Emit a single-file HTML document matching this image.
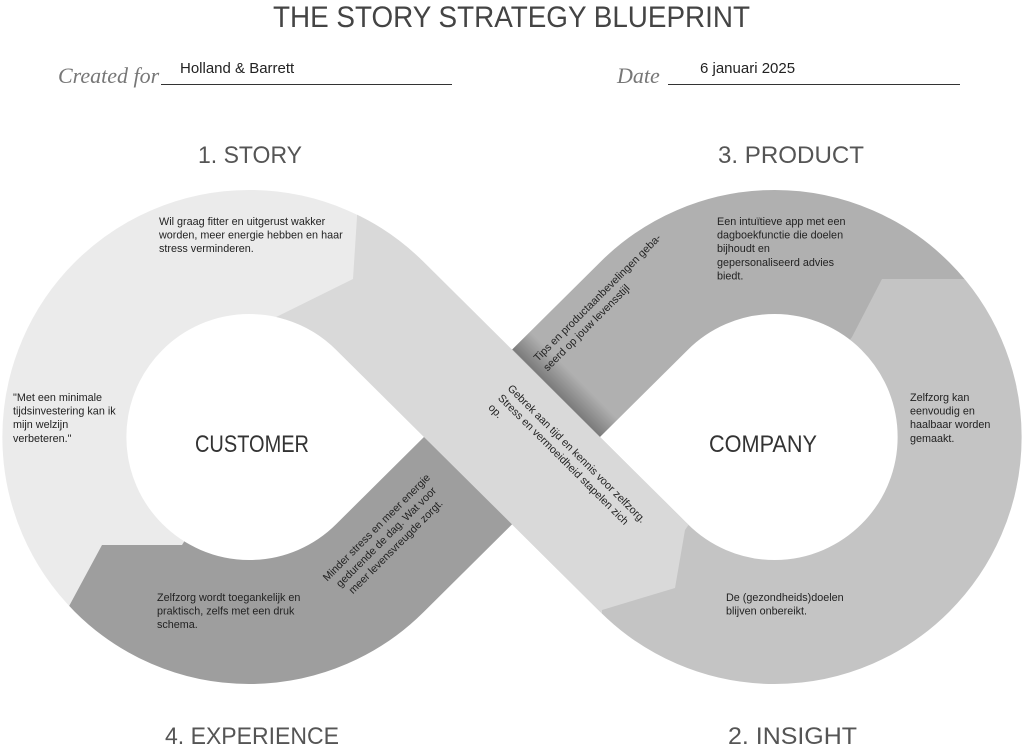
<!DOCTYPE html>
<html><head><meta charset="utf-8"><style>
html,body{margin:0;padding:0;background:#fff;}
svg{display:block;}
text{font-family:"Liberation Sans",sans-serif;fill:#222;}
.s{font-size:10.8px;}
</style></head><body>
<svg width="1024" height="745" viewBox="0 0 1024 745" xmlns="http://www.w3.org/2000/svg">
<defs>
<mask id="band" maskUnits="userSpaceOnUse" x="0" y="0" width="1024" height="745">
<rect width="1024" height="745" fill="#000"/>
<path d="M380,306 L644,568 A185,185 0 1 0 644,306 L380,568 A185,185 0 1 1 380,306 Z" fill="none" stroke="#fff" stroke-width="124"/>
</mask>
<mask id="light" maskUnits="userSpaceOnUse" x="0" y="0" width="1024" height="745">
<rect width="1024" height="745" fill="#000"/>
<path d="M217,255 A185,185 0 0 1 380,306 L644,568 A185,185 0 0 0 743,619" fill="none" stroke="#fff" stroke-width="124"/>
</mask>
<linearGradient id="sh" gradientUnits="userSpaceOnUse" x1="556" y1="393" x2="574" y2="375">
<stop offset="0" stop-color="#7a7a7a"/><stop offset="1" stop-color="#b0b0b0"/>
</linearGradient>
</defs>

<g mask="url(#band)">
<rect x="0" y="0" width="512" height="745" fill="#ebebeb"/>
<rect x="512" y="0" width="512" height="745" fill="#c4c4c4"/>
<polygon points="40,660 102,545 182,545 250,437 512,437 512,745 40,745" fill="#9e9e9e"/>
<polygon points="512,437 512,150 1024,150 1024,279 882,279 852,337 775,437" fill="#b0b0b0"/>
<polygon points="512,349 600,437 618,419 530,331" fill="url(#sh)"/>
</g>
<g mask="url(#light)">
<polygon points="357,100 357,217 353,279 260,325 400,700 602,700 602,610 675,588 685,530 720,480 720,100" fill="#d9d9d9"/>
</g>

<!-- header -->
<text x="273" y="27" font-size="30" textLength="477" lengthAdjust="spacingAndGlyphs" style="fill:#444">THE STORY STRATEGY BLUEPRINT</text>
<text x="58" y="83" font-size="22" style="font-family:'Liberation Serif',serif;font-style:italic;fill:#777">Created for</text>
<line x1="161" y1="84.5" x2="452" y2="84.5" stroke="#333" stroke-width="1"/>
<text x="180" y="73" font-size="15">Holland &amp; Barrett</text>
<text x="617" y="83" font-size="22" style="font-family:'Liberation Serif',serif;font-style:italic;fill:#777">Date</text>
<line x1="668" y1="84.5" x2="960" y2="84.5" stroke="#333" stroke-width="1"/>
<text x="700" y="73" font-size="15">6 januari 2025</text>

<text x="198" y="163" font-size="24" textLength="104" lengthAdjust="spacingAndGlyphs" style="fill:#555">1. STORY</text>
<text x="718" y="163" font-size="24" textLength="146" lengthAdjust="spacingAndGlyphs" style="fill:#555">3. PRODUCT</text>
<text x="165" y="744" font-size="24" textLength="174" lengthAdjust="spacingAndGlyphs" style="fill:#555">4. EXPERIENCE</text>
<text x="728" y="744" font-size="24" textLength="129" lengthAdjust="spacingAndGlyphs" style="fill:#555">2. INSIGHT</text>

<text x="195" y="452" font-size="24" textLength="114" lengthAdjust="spacingAndGlyphs" style="fill:#333">CUSTOMER</text>
<text x="709" y="452" font-size="24" textLength="108" lengthAdjust="spacingAndGlyphs" style="fill:#333">COMPANY</text>

<!-- body texts -->
<text class="s" x="159" y="225"><tspan x="159">Wil graag fitter en uitgerust wakker</tspan><tspan x="159" dy="13.6">worden, meer energie hebben en haar</tspan><tspan x="159" dy="13.6">stress verminderen.</tspan></text>
<text class="s" x="13" y="401"><tspan x="13">"Met een minimale</tspan><tspan x="13" dy="13.6">tijdsinvestering kan ik</tspan><tspan x="13" dy="13.6">mijn welzijn</tspan><tspan x="13" dy="13.6">verbeteren."</tspan></text>
<text class="s" x="157" y="601"><tspan x="157">Zelfzorg wordt toegankelijk en</tspan><tspan x="157" dy="13.6">praktisch, zelfs met een druk</tspan><tspan x="157" dy="13.6">schema.</tspan></text>
<text class="s" x="717" y="225"><tspan x="717">Een intuïtieve app met een</tspan><tspan x="717" dy="13.6">dagboekfunctie die doelen</tspan><tspan x="717" dy="13.6">bijhoudt en</tspan><tspan x="717" dy="13.6">gepersonaliseerd advies</tspan><tspan x="717" dy="13.6">biedt.</tspan></text>
<text class="s" x="910" y="401"><tspan x="910">Zelfzorg kan</tspan><tspan x="910" dy="13.6">eenvoudig en</tspan><tspan x="910" dy="13.6">haalbaar worden</tspan><tspan x="910" dy="13.6">gemaakt.</tspan></text>
<text class="s" x="726" y="601"><tspan x="726">De (gezondheids)doelen</tspan><tspan x="726" dy="13.6">blijven onbereikt.</tspan></text>

<g transform="translate(538,362) rotate(-45)"><text class="s"><tspan x="0" y="0">Tips en productaanbevelingen geba-</tspan><tspan x="0" dy="13.6">seerd op jouw levensstijl</tspan></text></g>
<g transform="translate(507,389) rotate(45)"><text class="s"><tspan x="0" y="0">Gebrek aan tijd en kennis voor zelfzorg.</tspan><tspan x="0" dy="13.6">Stress en vermoeidheid stapelen zich</tspan><tspan x="0" dy="13.6">op.</tspan></text></g>
<g transform="translate(379,530) rotate(-45)"><text class="s" text-anchor="middle"><tspan x="0" y="0">Minder stress en meer energie</tspan><tspan x="0" dy="13.6">gedurende de dag. Wat voor</tspan><tspan x="0" dy="13.6">meer levensvreugde zorgt.</tspan></text></g>
</svg>
</body></html>
